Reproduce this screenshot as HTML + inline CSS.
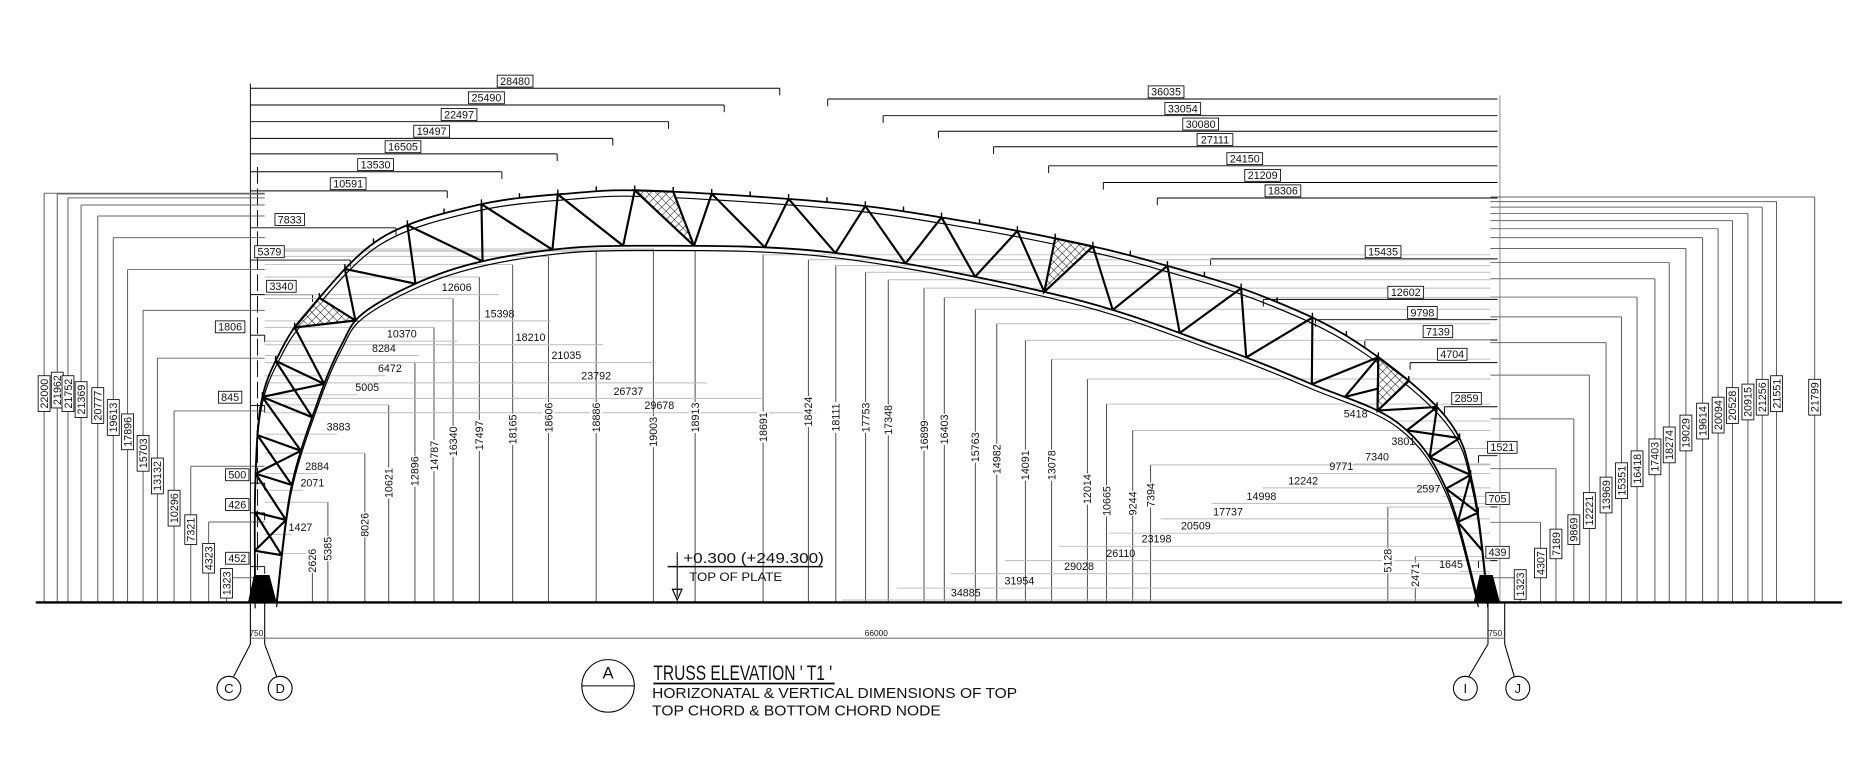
<!DOCTYPE html>
<html><head><meta charset="utf-8"><style>
html,body{margin:0;padding:0;background:#fff;overflow:hidden}
svg{display:block}
text{font-family:"Liberation Sans",sans-serif;fill:#111}
</style></head><body>
<svg id="s" width="1860" height="767" viewBox="0 0 1560 643" preserveAspectRatio="none" xmlns="http://www.w3.org/2000/svg">
<defs>
<pattern id="h" width="5" height="5" patternUnits="userSpaceOnUse" patternTransform="rotate(45)">
<rect width="5" height="5" fill="#fff"/><line x1="0" y1="0" x2="0" y2="5" stroke="#000" stroke-width="0.8"/><line x1="0" y1="0" x2="5" y2="0" stroke="#000" stroke-width="0.8"/></pattern>
</defs>
<g id="dims" stroke-width="0.8" fill="none"></g>
<g id="chords" fill="none" stroke="#000"></g>
<g id="web" stroke="#000" stroke-width="1.8" fill="none"></g>
<line x1="30" y1="505" x2="1545" y2="505" stroke="#000" stroke-width="2"/>
<polygon points="208,505 213,482 226,482 232,505" fill="#000"/>
<polygon points="1236,505 1241,482 1252,482 1258,505" fill="#000"/>
<g stroke="#000" stroke-width="0.9" fill="none">
<line x1="210" y1="505" x2="210" y2="540"/><line x1="222" y1="505" x2="222" y2="540"/>
<line x1="1248" y1="505" x2="1248" y2="540"/><line x1="1262" y1="505" x2="1262" y2="540"/>
<line x1="210" y1="535" x2="1262" y2="535" stroke="#777"/>
<path d="M210,540 L196,567 M222,540 L232,567 M1248,540 L1232,567 M1262,540 L1270,567"/>
<circle cx="192" cy="577" r="10"/><circle cx="235" cy="577" r="10"/>
<circle cx="1229" cy="577" r="10"/><circle cx="1273" cy="577" r="10"/>
<circle cx="510" cy="575" r="22"/><line x1="488" y1="575" x2="532" y2="575"/>
<line x1="548" y1="573" x2="700" y2="573" stroke-width="1.4"/>
<line x1="560" y1="475" x2="690" y2="475" stroke-width="1.2"/>
<line x1="568" y1="463" x2="568" y2="500"/>
</g>
<polygon points="564,494 572,494 568,503" fill="none" stroke="#000"/>
<text x="192" y="581" font-size="11" text-anchor="middle">C</text>
<text x="235" y="581" font-size="11" text-anchor="middle">D</text>
<text x="1229" y="581" font-size="11" text-anchor="middle">I</text>
<text x="1273" y="581" font-size="11" text-anchor="middle">J</text>
<text x="510" y="569" font-size="14" text-anchor="middle">A</text>
<text x="215" y="533" font-size="7" text-anchor="middle">750</text>
<text x="1254" y="533" font-size="7" text-anchor="middle">750</text>
<text x="735" y="533" font-size="7" text-anchor="middle">66000</text>
<text x="548" y="570" font-size="18" textLength="150" lengthAdjust="spacingAndGlyphs">TRUSS  ELEVATION  ' T1 '</text>
<text x="547" y="585" font-size="12" textLength="306" lengthAdjust="spacingAndGlyphs">HORIZONATAL &amp; VERTICAL DIMENSIONS OF TOP</text>
<text x="547" y="600" font-size="12" textLength="242" lengthAdjust="spacingAndGlyphs">TOP CHORD &amp; BOTTOM CHORD NODE</text>
<text x="573" y="472" font-size="12.5" textLength="118" lengthAdjust="spacingAndGlyphs">+0.300  (+249.300)</text>
<text x="578" y="487" font-size="10" textLength="78" lengthAdjust="spacingAndGlyphs">TOP OF PLATE</text>
<g id="lab"></g>
</svg>
<script>
var NS="http://www.w3.org/2000/svg";
function el(p,t,a,txt){var e=document.createElementNS(NS,t);for(var k in a)e.setAttribute(k,a[k]);if(txt!=null)e.textContent=txt;document.getElementById(p).appendChild(e);return e;}
function cr(P,dx){var d='M'+(P[0][0]+dx)+','+P[0][1];
 for(var i=0;i<P.length-1;i++){var p0=P[Math.max(0,i-1)],p1=P[i],p2=P[i+1],p3=P[Math.min(P.length-1,i+2)];
 d+=' C'+(p1[0]+(p2[0]-p0[0])/6+dx)+','+(p1[1]+(p2[1]-p0[1])/6)+' '+(p2[0]-(p3[0]-p1[0])/6+dx)+','+(p2[1]-(p3[1]-p1[1])/6)+' '+(p2[0]+dx)+','+p2[1];}
 return d;}
var TP=[[214,505],[214,410],[219,338],[235,295],[259,260],[319,200],[400,172],[480,162],[548,160],[700,170],[800,184],[900,203],[969,220],[1058,248],[1138,287],[1213,350],[1236,410],[1248,505]];
var BP=[[232,505],[244,410],[266,338],[286,290],[308,260],[373,228],[450,211],[537,206],[700,212],[894,249],[1019,290],[1100,322],[1173,355],[1213,410],[1240,505]];
var TD=cr(TP,0),BD=cr(BP,0);
var T=el('chords','path',{d:TD,'stroke-width':1.5});
el('chords','path',{d:TD,'stroke-width':1,transform:'translate(0,5)'});
var B=el('chords','path',{d:BD,'stroke-width':1.5});
el('chords','path',{d:BD,'stroke-width':1,transform:'translate(0,4)'});
var K=0.01559,G=505;
function box(x,y,s,rot){var w=s.length*5.2+4,h=10;
 if(rot){el('lab','rect',{x:x-h/2,y:y-w/2,width:h,height:w,fill:'#fff',stroke:'#000','stroke-width':0.7});
 el('lab','text',{x:x,y:y,'font-size':9,'text-anchor':'middle',transform:'rotate(-90 '+x+' '+y+') translate(0 3.2)'},s);}
 else{el('lab','rect',{x:x-w/2,y:y-h/2,width:w,height:h,fill:'#fff',stroke:'#000','stroke-width':0.7});
 el('lab','text',{x:x,y:y+3.2,'font-size':9,'text-anchor':'middle'},s);}}
function txt(x,y,s,rot){if(rot)el('lab','text',{x:x,y:y,'font-size':9,'text-anchor':'middle',transform:'rotate(-90 '+x+' '+y+') translate(0 3.2)'},s);
 else el('lab','text',{x:x,y:y+3,'font-size':9,'text-anchor':'middle'},s);}
[[28480,68,432],[25490,82,408],[22497,96,385],[19497,110,362],[16505,123,338],[13530,138,315],[10591,154,292],[7833,184,243],[5379,211,226],[3340,240,236],[1806,274,193],[845,333,193],[500,398,199],[426,423,199],[452,468,199]].forEach(function(d){
 var y=d[1]+(d[0]>9000?6:7),ex=210+d[0]*K;if(d[0]<2000)ex=222;
 el('dims','line',{x1:210,y1:y,x2:ex,y2:y,stroke:'#000'});el('dims','line',{x1:ex,y1:y,x2:ex,y2:y+6,stroke:'#000'});box(d[2],d[1],''+d[0]);});
[[36035,77,978],[33054,91,992],[30080,104,1007],[27111,117,1019],[24150,133,1044],[21209,147,1059],[18306,160,1076],[15435,211,1160],[12602,245,1179],[9798,262,1193],[7139,278,1206],[4704,297,1218],[2859,334,1230],[1521,375,1260],[705,418,1256],[439,463,1256]].forEach(function(d){
 var y=d[1]+(d[0]>9000?6:7),sx=1256-d[0]*K;if(d[0]<2000)sx=1240;
 el('dims','line',{x1:sx,y1:y,x2:1256,y2:y,stroke:'#000'});el('dims','line',{x1:sx,y1:y,x2:sx,y2:y+6,stroke:'#000'});box(d[2],d[1],''+d[0]);});
el('dims','line',{x1:210,y1:70,x2:210,y2:505,stroke:'#000'});
el('dims','line',{x1:216,y1:140,x2:216,y2:505,stroke:'#000','stroke-dasharray':'14 4'});
el('dims','line',{x1:1258,y1:80,x2:1258,y2:505,stroke:'#888'});
[[22000,37,330],[21962,48,327],[21752,57,330],[21369,68,335],[20777,82,340],[19613,95,350],[17896,107,362],[15703,120,380],[13132,132,399],[10296,146,426],[7321,160,444],[4323,175,468],[1323,190,489]].forEach(function(d){
 var t=G-d[0]*K;el('dims','line',{x1:d[1],y1:t,x2:d[1],y2:G,stroke:'#555'});el('dims','line',{x1:d[1],y1:t,x2:222,y2:t,stroke:'#666'});box(d[1],d[2],''+d[0],1);});
[[1323,1275,490],[4307,1292,472],[7189,1305,456],[9869,1320,444],[12221,1333,428],[13969,1347,415],[15351,1360,403],[16418,1373,393],[17403,1388,383],[18274,1400,373],[19029,1414,363],[19614,1428,353],[20094,1441,348],[20528,1453,340],[20915,1466,337],[21256,1478,333],[21551,1490,330],[21799,1522,333]].forEach(function(d){
 var t=G-d[0]*K;el('dims','line',{x1:d[1],y1:t,x2:d[1],y2:G,stroke:'#555'});el('dims','line',{x1:1250,y1:t,x2:d[1],y2:t,stroke:'#666'});box(d[1],d[2],''+d[0],1);});
[[2626,262,470],[5385,275,460],[8026,306,440],[10621,326,405],[12896,348,395],[14787,364,382],[16340,380,370],[17497,402,365],[18165,430,360],[18606,460,350],[18886,500,350],[19003,548,362],[18913,583,350],[18691,640,358],[18424,678,345],[18111,701,350],[17753,726,350],[17348,745,352],[16899,775,365],[16403,792,360],[15763,818,375],[14982,836,385],[14091,860,390],[13078,882,390],[12014,912,410],[10665,928,420],[9244,950,422],[7394,965,415],[5128,1164,470],[2471,1187,482]].forEach(function(d){
 var t=G-d[0]*K,lx=d[1]<600?222:1250;el('dims','line',{x1:d[1],y1:t,x2:d[1],y2:G,stroke:'#444'});el('dims','line',{x1:lx,y1:t,x2:d[1],y2:t,stroke:'#bbb'});
 var w=d[0].toString().length*5.2;el('lab','rect',{x:d[1]-5,y:d[2]-w/2,width:10,height:w,fill:'#fff'});txt(d[1],d[2],''+d[0],1);});
[[12606,383,241],[15398,419,263],[10370,337,280],[18210,445,283],[8284,322,292],[21035,475,298],[6472,327,309],[23792,500,315],[5005,308,325],[26737,527,328],[29678,553,340],[3883,284,358],[2884,266,391],[2071,262,405],[1427,252,442]].forEach(function(d){
 var ex=222+d[0]*K;el('dims','line',{x1:222,y1:d[2]+6,x2:ex,y2:d[2]+6,stroke:'#bbb'});txt(d[1],d[2],''+d[0]);});
[[5418,1137,347],[3801,1177,370],[7340,1155,383],[9771,1125,391],[12242,1093,403],[14998,1058,416],[17737,1030,429],[20509,1003,441],[23198,970,452],[26110,940,464],[29028,905,475],[31954,855,487],[34885,810,497],[2597,1198,410],[1645,1217,473]].forEach(function(d){
 var sx=1250-d[0]*K;el('dims','line',{x1:sx,y1:d[2]+6,x2:1250,y2:d[2]+6,stroke:'#bbb'});txt(d[1],d[2],''+d[0]);});
var LT=T.getTotalLength(),LB=B.getTotalLength();
var N=42,pts=[];
for(var i=0;i<=N;i++){var f=0.03+i/N*0.94;
 pts.push([T.getPointAtLength(LT*f),B.getPointAtLength(LB*f)]);}
var d='';
for(var i=0;i<N;i++){var a=pts[i],b=pts[i+1];
 if(i%2==0)d+='M'+a[0].x+','+a[0].y+' L'+b[1].x+','+b[1].y+' ';
 else d+='M'+a[1].x+','+a[1].y+' L'+b[0].x+','+b[0].y+' ';
 if(i<6||i>N-7){d+='M'+a[0].x+','+a[0].y+' L'+a[1].x+','+a[1].y+' M'+a[1].x+','+a[1].y+' L'+b[0].x+','+b[0].y+' ';}
 var p=a[0];el('web','line',{x1:p.x,y1:p.y,x2:p.x,y2:p.y-4,'stroke-width':1.2});}
el('web','path',{d:d});
[255,525,895,1160].forEach(function(tx){var bi=0,bd=1e9;
 for(var i=0;i<N-1;i++){var dd=Math.abs(pts[i][0].x-tx);if(dd<bd){bd=dd;bi=i;}}
 var a=pts[bi],c=pts[bi+1],P=[a[0],c[0],(bi%2==0)?c[1]:a[1]];
 el('web','polygon',{points:P.map(function(q){return q.x+','+q.y}).join(' '),fill:'url(#h)','stroke-width':1.8});});
</script>
</body></html>
